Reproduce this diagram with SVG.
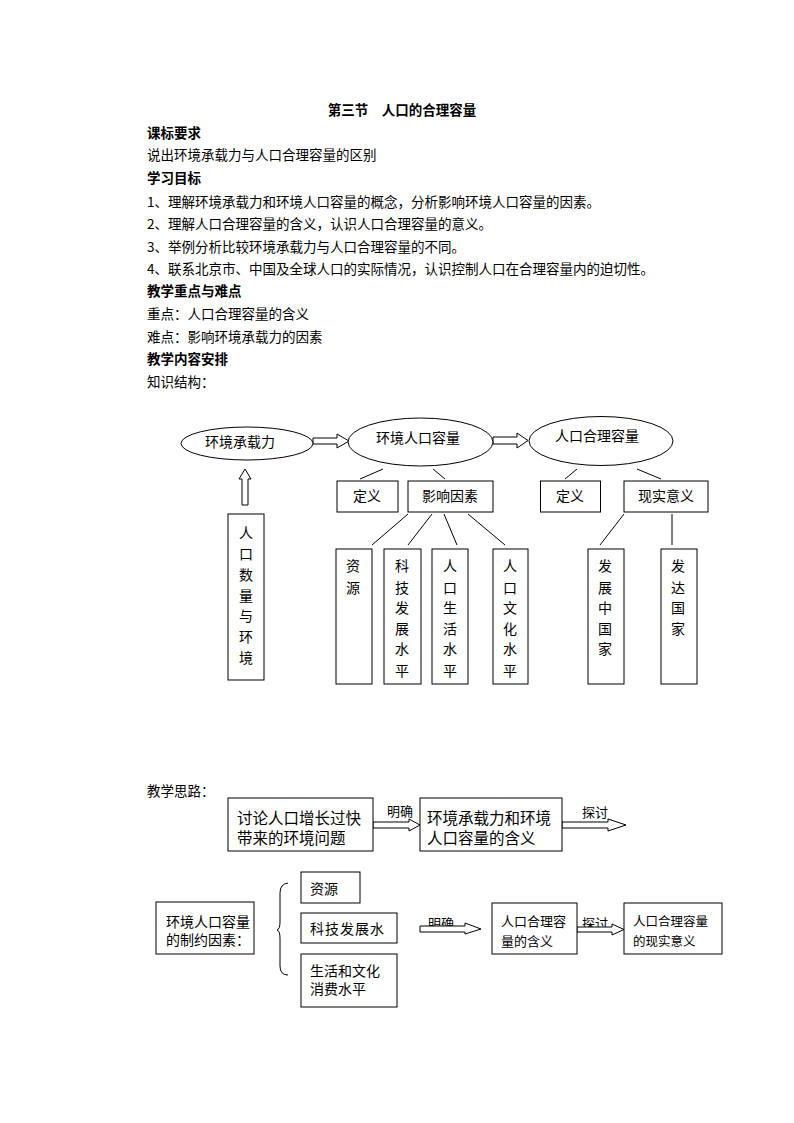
<svg xmlns="http://www.w3.org/2000/svg" width="794" height="1123" viewBox="0 0 794 1123">
<style>
text{font-family:"Noto Sans CJK SC","Noto Sans",sans-serif;fill:#000;dominant-baseline:central}
.h{font-size:13.5px}
.b{font-size:13.5px;font-weight:bold}
.n{font-size:14px}
.m{font-size:15.5px}
.s{font-size:13px}
.t{font-size:12.5px}
.c{text-anchor:middle}
.box{fill:#fff;stroke:#000;stroke-width:1}
.ln{fill:none;stroke:#000;stroke-width:1}
.arr{fill:#fff;stroke:#000;stroke-width:1}
</style>
<rect x="0" y="0" width="794" height="1123" fill="#fff"/>
<g id="header">
<text class="b c" x="402" y="109">第三节　人口的合理容量</text>
<text class="b" x="147" y="132">课标要求</text>
<text class="h" x="147" y="154">说出环境承载力与人口合理容量的区别</text>
<text class="b" x="147" y="177">学习目标</text>
<text class="h" x="147" y="201">1、理解环境承载力和环境人口容量的概念，分析影响环境人口容量的因素。</text>
<text class="h" x="147" y="223">2、理解人口合理容量的含义，认识人口合理容量的意义。</text>
<text class="h" x="147" y="246">3、举例分析比较环境承载力与人口合理容量的不同。</text>
<text class="h" x="147" y="268">4、联系北京市、中国及全球人口的实际情况，认识控制人口在合理容量内的迫切性。</text>
<text class="b" x="147" y="290">教学重点与难点</text>
<text class="h" x="147" y="313">重点：人口合理容量的含义</text>
<text class="h" x="147" y="336">难点：影响环境承载力的因素</text>
<text class="b" x="147" y="358">教学内容安排</text>
<text class="h" x="147" y="381">知识结构：</text>
</g>
<g id="connectors">
<polygon class="arr" points="313,438 337,438 337,434 349,441 337,448 337,444 313,444"/>
<polygon class="arr" points="493,437 517,437 517,433 528,440.5 517,448 517,444 493,444"/>
<polygon class="arr" points="242,505 242,479 239,479 245,469 251,479 248,479 248,505"/>
<line class="ln" x1="383" y1="469" x2="360" y2="479"/>
<line class="ln" x1="433" y1="469" x2="445" y2="479"/>
<line class="ln" x1="577" y1="469" x2="565" y2="479"/>
<line class="ln" x1="637" y1="469" x2="661" y2="479"/>
<line class="ln" x1="408" y1="514" x2="372" y2="545"/>
<line class="ln" x1="432" y1="514" x2="408" y2="545"/>
<line class="ln" x1="444" y1="514" x2="457" y2="545"/>
<line class="ln" x1="468" y1="514" x2="505" y2="545"/>
<line class="ln" x1="624" y1="514" x2="600" y2="545"/>
<line class="ln" x1="672" y1="514" x2="672" y2="545"/>
</g>
<g id="n-hjczl">
<ellipse class="box" cx="247" cy="443.5" rx="66" ry="16.5"/>
<text class="n c" x="240" y="441">环境承载力</text>
</g>
<g id="n-hjrkrl">
<ellipse class="box" cx="420.5" cy="442" rx="72.5" ry="24"/>
<text class="n c" x="418" y="437">环境人口容量</text>
</g>
<g id="n-rkhlrl">
<ellipse class="box" cx="601" cy="441" rx="72" ry="24.5"/>
<text class="n c" x="597" y="435">人口合理容量</text>
</g>
<g id="n-dy1">
<rect class="box" x="337" y="481" width="61" height="31"/>
<text class="n c" x="367" y="495">定义</text>
</g>
<g id="n-yxys">
<rect class="box" x="408" y="481" width="85" height="31"/>
<text class="n c" x="450" y="495">影响因素</text>
</g>
<g id="n-dy2">
<rect class="box" x="540.5" y="481" width="60" height="31"/>
<text class="n c" x="570" y="495">定义</text>
</g>
<g id="n-xsyy">
<rect class="box" x="624" y="481" width="84" height="31"/>
<text class="n c" x="666" y="495">现实意义</text>
</g>
<g id="n-rksl">
<rect class="box" x="228" y="514" width="36" height="166"/>
<text class="n c" x="246"><tspan x="246" y="532">人</tspan><tspan x="246" y="553">口</tspan><tspan x="246" y="574">数</tspan><tspan x="246" y="595">量</tspan><tspan x="246" y="615">与</tspan><tspan x="246" y="636">环</tspan><tspan x="246" y="657">境</tspan></text>
</g>
<g id="n-zy">
<rect class="box" x="336" y="549" width="36" height="135"/>
<text class="n c" x="353"><tspan x="353" y="565">资</tspan><tspan x="353" y="587">源</tspan></text>
</g>
<g id="n-kj">
<rect class="box" x="384" y="549" width="37" height="135"/>
<text class="n c" x="402"><tspan x="402" y="565">科</tspan><tspan x="402" y="587">技</tspan><tspan x="402" y="607">发</tspan><tspan x="402" y="628">展</tspan><tspan x="402" y="648">水</tspan><tspan x="402" y="670">平</tspan></text>
</g>
<g id="n-shsp">
<rect class="box" x="432" y="549" width="36" height="135"/>
<text class="n c" x="450"><tspan x="450" y="565">人</tspan><tspan x="450" y="587">口</tspan><tspan x="450" y="607">生</tspan><tspan x="450" y="628">活</tspan><tspan x="450" y="648">水</tspan><tspan x="450" y="670">平</tspan></text>
</g>
<g id="n-whsp">
<rect class="box" x="493" y="549" width="35" height="135"/>
<text class="n c" x="510"><tspan x="510" y="565">人</tspan><tspan x="510" y="587">口</tspan><tspan x="510" y="607">文</tspan><tspan x="510" y="628">化</tspan><tspan x="510" y="648">水</tspan><tspan x="510" y="670">平</tspan></text>
</g>
<g id="n-fzzgj">
<rect class="box" x="588" y="549" width="36" height="135"/>
<text class="n c" x="605"><tspan x="605" y="565">发</tspan><tspan x="605" y="587">展</tspan><tspan x="605" y="607">中</tspan><tspan x="605" y="628">国</tspan><tspan x="605" y="648">家</tspan></text>
</g>
<g id="n-fdgj">
<rect class="box" x="661" y="549" width="36" height="135"/>
<text class="n c" x="678"><tspan x="678" y="565">发</tspan><tspan x="678" y="587">达</tspan><tspan x="678" y="607">国</tspan><tspan x="678" y="628">家</tspan></text>
</g>
<text class="h" x="147" y="790">教学思路：</text>
<g id="connectors2">
<polygon class="arr" points="373,822 409,822 409,819 420,825 409,831 409,828 373,828"/>
<text class="s c" x="400" y="810">明确</text>
<polygon class="arr" points="562,822 608,822 608,819 626,825 608,831 608,828 562,828"/>
<text class="s c" x="595" y="811">探讨</text>
<text class="s c" x="441" y="922">明确</text>
<polygon class="arr" points="420,926 465,926 465,923 481,929 465,934 465,932 420,932"/>
<text class="s c" x="595" y="922">探讨</text>
<polygon class="arr" points="577,927 612,927 612,924 624,929.5 612,935 612,932 577,932"/>
<path class="ln" d="M288,883 Q280,884 280,893 L280,922 Q280,929 277,930 Q280,931 280,938 L280,966 Q280,975 288,975"/>
</g>
<g id="n-tl">
<rect class="box" x="228" y="798" width="145" height="53"/>
<text class="m" x="237" y="817">讨论人口增长过快</text>
<text class="m" x="237" y="837">带来的环境问题</text>
</g>
<g id="n-hjhy">
<rect class="box" x="420" y="798" width="142" height="53"/>
<text class="m" x="427" y="817">环境承载力和环境</text>
<text class="m" x="427" y="837">人口容量的含义</text>
</g>
<g id="n-zyys">
<rect class="box" x="156" y="902" width="98" height="52"/>
<text class="n" x="166" y="921">环境人口容量</text>
<text class="n" x="166" y="939">的制约因素：</text>
</g>
<g id="n-zy2">
<rect class="box" x="301" y="872" width="59" height="31"/>
<text class="n" x="310" y="888">资源</text>
</g>
<g id="n-kjfz">
<rect class="box" x="301" y="913" width="96" height="30"/>
<text class="n" x="310" y="928" letter-spacing="1">科技发展水</text>
</g>
<g id="n-shwh">
<rect class="box" x="301" y="954" width="96" height="53"/>
<text class="n" x="310" y="970">生活和文化</text>
<text class="n" x="310" y="988">消费水平</text>
</g>
<g id="n-hlhy">
<rect class="box" x="492" y="903" width="85" height="51"/>
<text class="s" x="501" y="920">人口合理容</text>
<text class="s" x="501" y="940">量的含义</text>
</g>
<g id="n-xsyy2">
<rect class="box" x="624" y="903" width="98" height="51"/>
<text class="t" x="633" y="920">人口合理容量</text>
<text class="t" x="633" y="940">的现实意义</text>
</g>
</svg>
